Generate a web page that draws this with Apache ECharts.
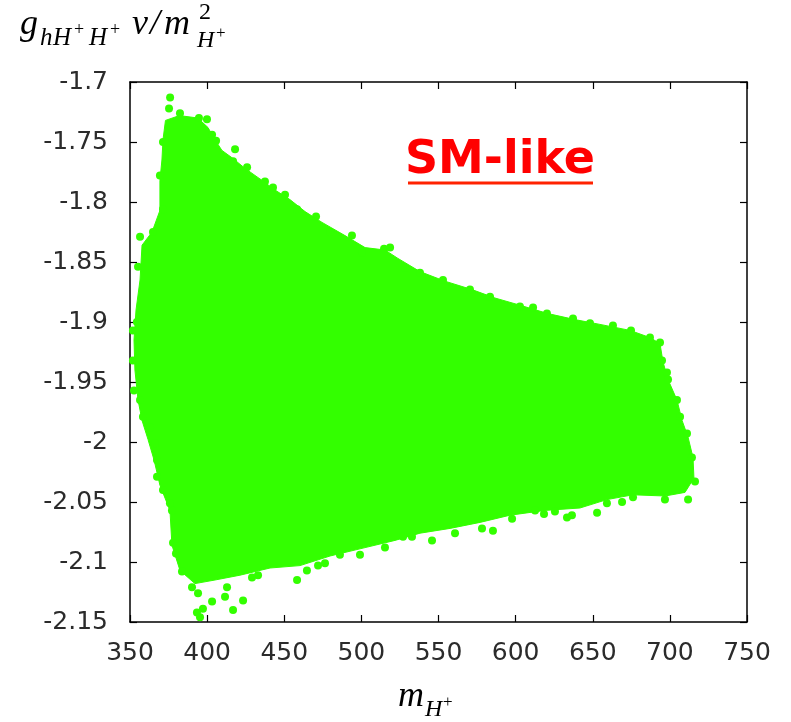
<!DOCTYPE html>
<html>
<head>
<meta charset="utf-8">
<script src="https://cdn.jsdelivr.net/npm/echarts@6/dist/echarts.min.js"></script>
<style>
html,body{margin:0;padding:0;background:#fff;}
#chart{width:791px;height:722px;}
</style>
</head>
<body>
<div id="chart"></div>
<script>
// Axis settings
const xMin = 350, xMax = 750, xStep = 50;
const yMin = -2.15, yMax = -1.7, yStep = 0.05;

// Dense core of the scatter cloud (outline of the filled region)
const coreX = [373,382,394,400.6,404.5,409.6,416,424.6,435.6,444,453.7,463.5,474.5,489.4,502.4,515.3,523.7,538,554.2,571.7,586.6,602.8,621,638.5,654.7,674.2,687.1,693.6,695.5,698.8,704.6,707.9,711.8,715,715.6,709.8,696.8,676.1,659.2,641.7,619,596.4,576.9,557.5,538,521.8,502.4,479.7,460.2,440.8,421.3,405.1,392.1,382.4,377.2,375.9,369.4,365.6,361.7,357.8,355.2,353.2,352.6,353.9,356.5,357.8,364.3,369.4,369.4,370.7,371.4];
const coreY = [-1.732,-1.728,-1.730,-1.738,-1.747,-1.757,-1.763,-1.772,-1.782,-1.790,-1.798,-1.808,-1.817,-1.828,-1.838,-1.840,-1.847,-1.858,-1.866,-1.873,-1.880,-1.886,-1.893,-1.898,-1.902,-1.907,-1.913,-1.918,-1.933,-1.948,-1.965,-1.982,-1.996,-2.013,-2.030,-2.042,-2.045,-2.044,-2.048,-2.055,-2.057,-2.061,-2.067,-2.072,-2.076,-2.082,-2.088,-2.095,-2.103,-2.105,-2.111,-2.115,-2.118,-2.107,-2.086,-2.057,-2.036,-2.015,-1.998,-1.982,-1.965,-1.940,-1.915,-1.890,-1.865,-1.836,-1.825,-1.807,-1.782,-1.765,-1.748];

// Individual points along the ragged edge of the cloud
const edgeX = [376,375.3,382.4,394.7,399.9,403.2,405.8,418.1,416.8,425.9,437.5,442.7,450.5,458.3,470.6,479.7,493.9,500.4,514.7,518.6,528.3,538,552.9,570.4,583.4,602.8,611.3,620.3,637.2,648.2,663.1,674.8,687.1,693.6,694.9,698.1,
  698.8,704.6,706.6,711.1,714.3,716.3,711.8,696.8,
  676.1,669,659.2,652.8,636.5,633.3,625.5,618.4,612.6,597.7,585.3,578.2,560.7,545.8,532.8,527,515.3,499.1,486.1,476.4,471.9,464.7,458.3,433,429.1,423.3,416.8,412.9,411.6,403.2,397.3,395.4,393.4,394.1,390.2,383.7,379.8,377.9,
  377.2,375.9,371.4,367.5,367.5,366.2,363,358.4,356.5,352.6,351.9,351.9,354.5,355.2,356.5,364.9,371.4,369.4,371.4];
const edgeY = [-1.713,-1.722,-1.726,-1.730,-1.731,-1.744,-1.749,-1.756,-1.766,-1.771,-1.783,-1.788,-1.794,-1.806,-1.812,-1.825,-1.828,-1.842,-1.839,-1.838,-1.855,-1.859,-1.865,-1.873,-1.879,-1.887,-1.888,-1.893,-1.897,-1.901,-1.903,-1.907,-1.913,-1.917,-1.932,-1.942,
  -1.948,-1.965,-1.979,-1.993,-2.013,-2.033,-2.048,-2.048,
  -2.046,-2.050,-2.051,-2.059,-2.061,-2.063,-2.058,-2.060,-2.057,-2.064,-2.074,-2.072,-2.076,-2.082,-2.079,-2.079,-2.088,-2.094,-2.094,-2.101,-2.103,-2.107,-2.115,-2.111,-2.113,-2.132,-2.140,-2.121,-2.129,-2.133,-2.139,-2.146,-2.142,-2.126,-2.121,-2.108,-2.093,-2.084,
  -2.057,-2.051,-2.040,-2.029,-2.015,-2.001,-1.988,-1.979,-1.965,-1.957,-1.932,-1.907,-1.900,-1.854,-1.829,-1.825,-1.806,-1.778,-1.750];

const GREEN = '#33ff00';
const chart = echarts.init(document.getElementById('chart'), null, {renderer: 'canvas'});

const axisLine = {show: true, onZero: false, lineStyle: {color: '#000', width: 1.5}};
const tick = {show: true, inside: true, length: 7, lineStyle: {color: '#000', width: 1.2}};
const lbl = {fontSize: 25, color: '#2b2b2b', fontFamily: 'DejaVu Sans'};

const edgePts = edgeX.map((x, i) => [x, edgeY[i]]);

const T = (text, x, y, size, italic, color) => ({
  type: 'text', x: x, y: y, silent: true,
  style: {text: text, fontSize: size, fontFamily: 'Liberation Serif', fontStyle: italic ? 'italic' : 'normal',
    fill: color || '#000', verticalAlign: 'middle', align: 'left'}
});

chart.setOption({
  animation: false,
  backgroundColor: '#fff',
  grid: {left: 130, top: 82, right: 44, bottom: 100, containLabel: false},
  xAxis: [
    {type: 'value', min: xMin, max: xMax, interval: xStep, position: 'bottom', axisLine: axisLine, axisTick: tick,
     axisLabel: Object.assign({margin: 19}, lbl), splitLine: {show: false}},
    {type: 'value', min: xMin, max: xMax, interval: xStep, position: 'top', axisLine: axisLine, axisTick: tick,
     axisLabel: {show: false}, splitLine: {show: false}}
  ],
  yAxis: [
    {type: 'value', min: yMin, max: yMax, interval: yStep, position: 'left', axisLine: axisLine, axisTick: tick,
     axisLabel: Object.assign({margin: 22}, lbl), splitLine: {show: false}},
    {type: 'value', min: yMin, max: yMax, interval: yStep, position: 'right', axisLine: axisLine, axisTick: tick,
     axisLabel: {show: false}, splitLine: {show: false}}
  ],
  series: [
    {
      type: 'custom',
      xAxisIndex: 0, yAxisIndex: 0,
      data: [[coreX[0], coreY[0]]],
      renderItem: function (params, api) {
        const pts = coreX.map((x, i) => api.coord([x, coreY[i]]));
        return {type: 'polygon', shape: {points: pts}, style: {fill: GREEN, stroke: GREEN, lineWidth: 1}};
      },
      z: 2
    },
    {
      type: 'scatter',
      xAxisIndex: 0, yAxisIndex: 0,
      data: edgePts,
      symbol: 'circle', symbolSize: 8,
      itemStyle: {color: GREEN, opacity: 1},
      z: 3
    }
  ],
  graphic: [
    // y-axis title: g_{hH+H+} v / m^2_{H+}
    T('g', 20, 25, 36, true),
    T('h', 40, 38, 25, true),
    T('H', 53, 38, 25, true),
    T('+', 74, 30, 18, false),
    T('H', 89, 38, 25, true),
    T('+', 110, 30, 18, false),
    T('v', 132, 25, 36, true),
    T('/', 150, 25, 36, true),
    T('m', 164, 25, 36, true),
    T('2', 199, 13, 24, false),
    T('H', 197, 41, 24, true),
    T('+', 216, 34, 17, false),
    // x-axis title: m_{H+}
    T('m', 398, 697, 36, true),
    T('H', 425, 710, 24, true),
    T('+', 443, 703, 17, false),
    // SM-like label
    {type: 'text', x: 500, y: 161, silent: true,
     style: {text: 'SM-like', fontSize: 46, fontWeight: 'bold', fontFamily: 'DejaVu Sans', fill: '#ff0000', align: 'center', verticalAlign: 'middle'}},
    {type: 'line', silent: true, shape: {x1: 408, y1: 183, x2: 593, y2: 183}, style: {stroke: '#ff2200', lineWidth: 3}}
  ]
});
</script>
</body>
</html>
